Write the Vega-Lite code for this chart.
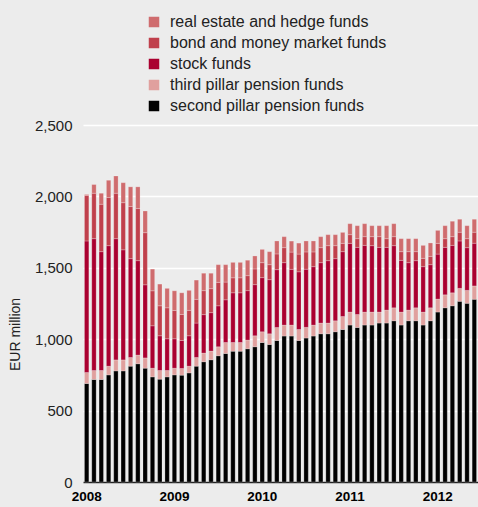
{
  "$schema": "https://vega.github.io/schema/vega-lite/v6.json",
  "width": 395,
  "height": 357,
  "autosize": {"type": "none"},
  "padding": {"left": 83, "top": 125, "right": 0, "bottom": 25},
  "background": "#ececec",
  "config": {
    "view": {"stroke": null},
    "font": "Liberation Sans"
  },
  "datasets": {
    "series": [
      {"key": "p2", "label": "second pillar pension funds", "rank": 1},
      {"key": "p3", "label": "third pillar pension funds", "rank": 2},
      {"key": "stock", "label": "stock funds", "rank": 3},
      {"key": "bond", "label": "bond and money market funds", "rank": 4},
      {"key": "re", "label": "real estate and hedge funds", "rank": 5}
    ]
  },
  "data": {
    "values": [
      {"month": "2008-01", "p2": 690, "p3": 77, "stock": 921, "bond": 318, "re": 8},
      {"month": "2008-02", "p2": 718, "p3": 63, "stock": 923, "bond": 318, "re": 61},
      {"month": "2008-03", "p2": 718, "p3": 63, "stock": 832, "bond": 332, "re": 77},
      {"month": "2008-04", "p2": 750, "p3": 61, "stock": 844, "bond": 337, "re": 121},
      {"month": "2008-05", "p2": 778, "p3": 77, "stock": 849, "bond": 318, "re": 121},
      {"month": "2008-06", "p2": 778, "p3": 77, "stock": 771, "bond": 330, "re": 140},
      {"month": "2008-07", "p2": 811, "p3": 61, "stock": 692, "bond": 365, "re": 138},
      {"month": "2008-08", "p2": 828, "p3": 61, "stock": 661, "bond": 365, "re": 152},
      {"month": "2008-09", "p2": 797, "p3": 72, "stock": 512, "bond": 365, "re": 152},
      {"month": "2008-10", "p2": 736, "p3": 61, "stock": 297, "bond": 245, "re": 152},
      {"month": "2008-11", "p2": 720, "p3": 61, "stock": 243, "bond": 210, "re": 152},
      {"month": "2008-12", "p2": 736, "p3": 45, "stock": 222, "bond": 217, "re": 136},
      {"month": "2009-01", "p2": 750, "p3": 47, "stock": 206, "bond": 198, "re": 138},
      {"month": "2009-02", "p2": 748, "p3": 47, "stock": 196, "bond": 182, "re": 152},
      {"month": "2009-03", "p2": 764, "p3": 47, "stock": 213, "bond": 178, "re": 140},
      {"month": "2009-04", "p2": 811, "p3": 61, "stock": 241, "bond": 166, "re": 135},
      {"month": "2009-05", "p2": 842, "p3": 61, "stock": 269, "bond": 168, "re": 122},
      {"month": "2009-06", "p2": 856, "p3": 61, "stock": 269, "bond": 168, "re": 108},
      {"month": "2009-07", "p2": 884, "p3": 63, "stock": 287, "bond": 164, "re": 124},
      {"month": "2009-08", "p2": 900, "p3": 77, "stock": 299, "bond": 124, "re": 122},
      {"month": "2009-09", "p2": 916, "p3": 61, "stock": 348, "bond": 105, "re": 108},
      {"month": "2009-10", "p2": 916, "p3": 61, "stock": 348, "bond": 105, "re": 108},
      {"month": "2009-11", "p2": 933, "p3": 61, "stock": 346, "bond": 105, "re": 108},
      {"month": "2009-12", "p2": 947, "p3": 77, "stock": 358, "bond": 110, "re": 91},
      {"month": "2010-01", "p2": 977, "p3": 75, "stock": 379, "bond": 105, "re": 93},
      {"month": "2010-02", "p2": 963, "p3": 75, "stock": 379, "bond": 105, "re": 91},
      {"month": "2010-03", "p2": 991, "p3": 91, "stock": 405, "bond": 110, "re": 91},
      {"month": "2010-04", "p2": 1022, "p3": 77, "stock": 437, "bond": 105, "re": 77},
      {"month": "2010-05", "p2": 1022, "p3": 77, "stock": 390, "bond": 121, "re": 77},
      {"month": "2010-06", "p2": 991, "p3": 77, "stock": 404, "bond": 124, "re": 77},
      {"month": "2010-07", "p2": 1008, "p3": 75, "stock": 407, "bond": 121, "re": 77},
      {"month": "2010-08", "p2": 1022, "p3": 77, "stock": 409, "bond": 103, "re": 77},
      {"month": "2010-09", "p2": 1038, "p3": 75, "stock": 423, "bond": 105, "re": 77},
      {"month": "2010-10", "p2": 1038, "p3": 75, "stock": 437, "bond": 105, "re": 77},
      {"month": "2010-11", "p2": 1052, "p3": 77, "stock": 435, "bond": 91, "re": 77},
      {"month": "2010-12", "p2": 1068, "p3": 91, "stock": 454, "bond": 58, "re": 77},
      {"month": "2011-01", "p2": 1099, "p3": 91, "stock": 481, "bond": 61, "re": 77},
      {"month": "2011-02", "p2": 1082, "p3": 91, "stock": 470, "bond": 61, "re": 91},
      {"month": "2011-03", "p2": 1099, "p3": 91, "stock": 467, "bond": 61, "re": 91},
      {"month": "2011-04", "p2": 1099, "p3": 91, "stock": 465, "bond": 63, "re": 77},
      {"month": "2011-05", "p2": 1113, "p3": 77, "stock": 453, "bond": 75, "re": 77},
      {"month": "2011-06", "p2": 1113, "p3": 91, "stock": 439, "bond": 61, "re": 91},
      {"month": "2011-07", "p2": 1129, "p3": 91, "stock": 435, "bond": 63, "re": 91},
      {"month": "2011-08", "p2": 1099, "p3": 91, "stock": 362, "bond": 61, "re": 91},
      {"month": "2011-09", "p2": 1129, "p3": 75, "stock": 332, "bond": 77, "re": 91},
      {"month": "2011-10", "p2": 1129, "p3": 91, "stock": 330, "bond": 63, "re": 91},
      {"month": "2011-11", "p2": 1099, "p3": 91, "stock": 318, "bond": 58, "re": 91},
      {"month": "2011-12", "p2": 1129, "p3": 91, "stock": 302, "bond": 58, "re": 94},
      {"month": "2012-01", "p2": 1190, "p3": 91, "stock": 315, "bond": 75, "re": 91},
      {"month": "2012-02", "p2": 1220, "p3": 91, "stock": 332, "bond": 61, "re": 91},
      {"month": "2012-03", "p2": 1234, "p3": 91, "stock": 332, "bond": 61, "re": 108},
      {"month": "2012-04", "p2": 1265, "p3": 91, "stock": 332, "bond": 61, "re": 91},
      {"month": "2012-05", "p2": 1251, "p3": 91, "stock": 299, "bond": 63, "re": 91},
      {"month": "2012-06", "p2": 1279, "p3": 94, "stock": 299, "bond": 77, "re": 91}
    ]
  },
  "transform": [
    {"fold": ["p2", "p3", "stock", "bond", "re"], "as": ["key", "value"]},
    {"lookup": "key", "from": {"data": {"name": "series"}, "key": "key", "fields": ["label", "rank"]}}
  ],
  "mark": {"type": "bar", "stroke": "#ffffff", "strokeWidth": 0.5, "strokeOpacity": 0.45},
  "encoding": {
    "x": {
      "field": "month",
      "type": "ordinal",
      "scale": {"paddingInner": 0.4, "paddingOuter": 0.2},
      "axis": {
        "title": null,
        "values": ["2008-01", "2009-01", "2010-01", "2011-01", "2012-01"],
        "labelExpr": "slice(datum.value, 0, 4)",
        "labelAngle": 0,
        "labelFontSize": 13.5,
        "labelFontWeight": "bold",
        "labelColor": "#000000",
        "labelPadding": 7,
        "ticks": false,
        "domainColor": "#222222",
        "domainWidth": 1.5
      }
    },
    "y": {
      "field": "value",
      "type": "quantitative",
      "stack": "zero",
      "scale": {"domain": [0, 2500]},
      "axis": {
        "title": "EUR million",
        "titleFontSize": 14,
        "titleFontWeight": "normal",
        "titleColor": "#222222",
        "titleX": -61,
        "titleY": 209,
        "titleAngle": -90,
        "titleAlign": "center",
        "values": [0, 500, 1000, 1500, 2000, 2500],
        "format": ",.0f",
        "labelFontSize": 15,
        "labelColor": "#222222",
        "labelPadding": 11,
        "ticks": false,
        "domain": false,
        "gridColor": "#ffffff",
        "gridWidth": 1.6
      }
    },
    "color": {
      "field": "label",
      "type": "nominal",
      "scale": {
        "domain": ["real estate and hedge funds", "bond and money market funds", "stock funds", "third pillar pension funds", "second pillar pension funds"],
        "range": ["#cf6c6e", "#c0404c", "#aa0030", "#e0a09e", "#000000"]
      },
      "legend": {
        "title": null,
        "orient": "none",
        "legendX": 63,
        "legendY": -111,
        "padding": 0,
        "symbolType": "square",
        "symbolSize": 110,
        "symbolStrokeWidth": 0,
        "labelFontSize": 16,
        "labelLimit": 400,
        "labelColor": "#222222",
        "labelOffset": 8,
        "rowPadding": 5
      }
    },
    "order": {"field": "rank", "type": "quantitative", "sort": "ascending"}
  }
}
